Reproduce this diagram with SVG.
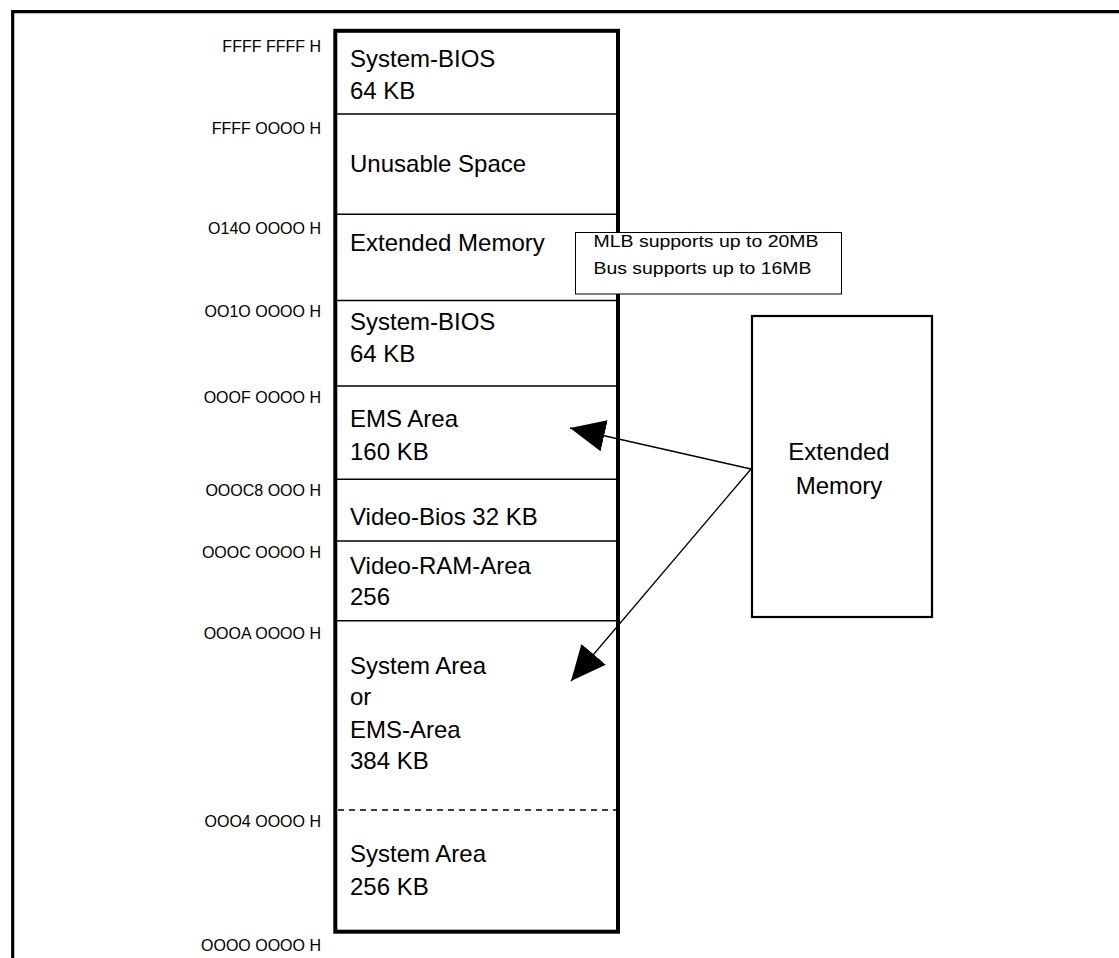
<svg xmlns="http://www.w3.org/2000/svg" width="1119" height="958" viewBox="0 0 1119 958">
<style>
.frame{fill:none;stroke:#000;stroke-width:3.2}
.col{fill:none;stroke:#000;stroke-width:4}
.div{stroke:#000;stroke-width:1.5}
.dash{stroke:#000;stroke-width:1.3;stroke-dasharray:6 5}
.t{font-family:"Liberation Sans",Arial,Helvetica,sans-serif;font-size:24px;fill:#000}
.a{font-family:"Liberation Sans",Arial,Helvetica,sans-serif;font-size:16px;fill:#000;text-anchor:end}
.n{font-family:"Liberation Sans",Arial,Helvetica,sans-serif;font-size:17px;fill:#000}
.c{text-anchor:middle}
.box{fill:#fff;stroke:#000;stroke-width:2.2}
.note{fill:#fff;stroke:#000;stroke-width:1}
.ln{stroke:#000;stroke-width:1.3;fill:none}
</style>
<defs>
<marker id="ah" viewBox="0 0 35 32" refX="35" refY="16" markerWidth="35" markerHeight="32" markerUnits="userSpaceOnUse" orient="auto">
<path d="M0,0 L35,16 L0,32 Z" fill="#000"/>
</marker>
</defs>
<rect width="1119" height="958" fill="#fff"/>
<path class="frame" d="M12.7,960 L12.7,11.7 L1121,11.7"/>
<g id="memory-map">
<rect class="col" x="335.3" y="30.8" width="282.7" height="900.9"/>
<line class="div" x1="336" y1="114" x2="618" y2="114"/>
<line class="div" x1="336" y1="214.3" x2="618" y2="214.3"/>
<line class="div" x1="336" y1="300.5" x2="618" y2="300.5"/>
<line class="div" x1="336" y1="386" x2="618" y2="386"/>
<line class="div" x1="336" y1="479.3" x2="618" y2="479.3"/>
<line class="div" x1="336" y1="541" x2="618" y2="541"/>
<line class="div" x1="336" y1="620.8" x2="618" y2="620.8"/>
<line class="dash" x1="338" y1="810" x2="616" y2="810"/>
</g>
<g id="seg-system-bios-top"><text class="t" x="350" y="66.5">System-BIOS</text><text class="t" x="350" y="99">64 KB</text></g>
<g id="seg-unusable"><text class="t" x="350" y="172">Unusable Space</text></g>
<g id="seg-extended"><text class="t" x="350" y="251">Extended Memory</text></g>
<g id="seg-system-bios"><text class="t" x="350" y="330">System-BIOS</text><text class="t" x="350" y="362">64 KB</text></g>
<g id="seg-ems"><text class="t" x="350" y="427">EMS Area</text><text class="t" x="350" y="459.5">160 KB</text></g>
<g id="seg-video-bios"><text class="t" x="350" y="524.5">Video-Bios 32 KB</text></g>
<g id="seg-video-ram"><text class="t" x="350" y="574">Video-RAM-Area</text><text class="t" x="350" y="605">256</text></g>
<g id="seg-system-ems"><text class="t" x="350" y="674">System Area</text><text class="t" x="350" y="705">or</text><text class="t" x="350" y="737.5">EMS-Area</text><text class="t" x="350" y="768.5">384 KB</text></g>
<g id="seg-system-area"><text class="t" x="350" y="862">System Area</text><text class="t" x="350" y="895">256 KB</text></g>
<g id="addresses">
<text class="a" x="321" y="52">FFFF FFFF H</text>
<text class="a" x="321" y="133.5">FFFF OOOO H</text>
<text class="a" x="321" y="234">O14O OOOO H</text>
<text class="a" x="321" y="317">OO1O OOOO H</text>
<text class="a" x="321" y="403">OOOF OOOO H</text>
<text class="a" x="321" y="496">OOOC8 OOO H</text>
<text class="a" x="321" y="558">OOOC OOOO H</text>
<text class="a" x="321" y="639">OOOA OOOO H</text>
<text class="a" x="321" y="827">OOO4 OOOO H</text>
<text class="a" x="321" y="951">OOOO OOOO H</text>
</g>
<g id="note">
<rect class="note" x="575.5" y="232.5" width="266" height="61.5"/>
<text class="n" x="593.5" y="247" textLength="225" lengthAdjust="spacingAndGlyphs">MLB supports up to 20MB</text>
<text class="n" x="593.5" y="273.5" textLength="218" lengthAdjust="spacingAndGlyphs">Bus supports up to 16MB</text>
</g>
<g id="extended-memory">
<rect class="box" x="752" y="316" width="180" height="301"/>
<text class="t c" x="839" y="460">Extended</text>
<text class="t c" x="839" y="493.5">Memory</text>
</g>
<g id="connectors">
<line class="ln" x1="751" y1="469" x2="570" y2="428" marker-end="url(#ah)"/>
<line class="ln" x1="751" y1="469" x2="571" y2="681" marker-end="url(#ah)"/>
</g>
</svg>
